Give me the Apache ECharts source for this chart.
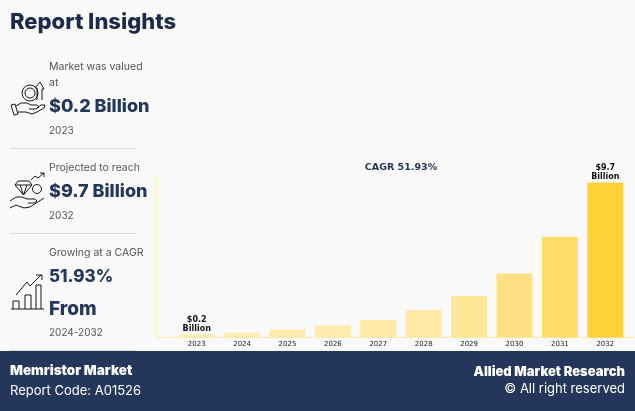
<!DOCTYPE html>
<html><head><meta charset="utf-8">
<style>html,body{margin:0;padding:0;background:#f9f9f9}#c{width:635px;height:411px}</style>
<script src="https://cdn.jsdelivr.net/npm/echarts@6/dist/echarts.min.js"></script>
</head><body><div id="c"></div>
<script>
const years = ['2023','2024','2025','2026','2027','2028','2029','2030','2031','2032'];
const values = [0.2,0.3,0.5,0.75,1.1,1.7,2.6,4.0,6.3,9.7];
const barColors = ['#FFECB3','#FFECB1','#FFEBAE','#FFEBAC','#FFEAA8','#FFE9A5','#FFE596','#FFE084','#FFDB6C','#FFD338'];
const valueLabels = {0:'$0.2\nBillion',9:'$9.7\nBillion'};
const NAVY='#24375B', GREY='#555', F='Inter, "Open Sans", sans-serif';
const txt=(x,y,text,size,weight,fill,align)=>({type:'text',x,y,style:{text,font:`${weight} ${size}px ${F}`,fill,textAlign:align||'left',textVerticalAlign:'middle'}});
const rule=(y)=>({type:'line',shape:{x1:10,y1:y,x2:136,y2:y},style:{stroke:'#dcdcdc',lineWidth:1}});
const IC={fill:'none',stroke:'#161616',lineWidth:1};
const pl=(...pts)=>({type:'polyline',shape:{points:pts},style:IC});
const ci=(cx,cy,r)=>({type:'circle',shape:{cx,cy,r},style:IC});
const chart=echarts.init(document.getElementById('c'),null,{renderer:'canvas'});
chart.setOption({
  animation:false,
  backgroundColor:'#f9f9f9',
  grid:{left:174,top:174.5,width:454,height:163},
  xAxis:{type:'category',data:years,axisTick:{show:false},
    axisLine:{lineStyle:{color:'#FFE9A8',width:1}},
    axisLabel:{fontFamily:'DejaVu Sans',fontSize:7,color:'#222',margin:3}},
  yAxis:{type:'value',min:0,max:10.2,offset:18,splitLine:{show:false},axisTick:{show:false},axisLabel:{show:false},
    axisLine:{show:true,lineStyle:{color:'#FFEFC2',width:1}}},
  series:[{type:'bar',barWidth:36,
    data:values.map((v,i)=>({value:v,itemStyle:{color:barColors[i]}})),
    label:{show:true,position:'top',distance:1,formatter:o=>valueLabels[o.dataIndex]||'',
      fontFamily:'DejaVu Sans',fontWeight:'bold',fontSize:8,lineHeight:9,color:'#111',align:'center'}}],
  graphic:[
    {type:'line',silent:true,shape:{x1:156,y1:337.5,x2:635,y2:337.5},style:{stroke:'#FFE9A8',lineWidth:1}},
    {type:'rect',shape:{x:0,y:351,width:635,height:60},style:{fill:NAVY}},
    txt(10,22,'Report Insights',22,800,'#1E2A4A'),
    txt(49,67,'Market was valued',10.5,400,GREY),
    txt(49,83,'at',10.5,400,GREY),
    txt(49,107,'$0.2 Billion',18,800,NAVY),
    txt(49,131,'2023',10,400,GREY),
    rule(148.5),
    txt(49,168,'Projected to reach',10.5,400,GREY),
    txt(49,192,'$9.7 Billion',18,800,NAVY),
    txt(49,216,'2032',10,400,GREY),
    rule(233.5),
    txt(49,253,'Growing at a CAGR',10.5,400,GREY),
    txt(49,277,'51.93%',17,800,NAVY),
    txt(49,309,'From',19,800,NAVY),
    txt(49,333,'2024-2032',10,400,GREY),
    rule(350.5),
    {type:'text',x:401,y:167.5,style:{text:'CAGR 51.93%',font:'bold 9.5px "DejaVu Sans"',fill:NAVY,textAlign:'center',textVerticalAlign:'middle'}},
    txt(10,371,'Memristor Market',13.5,900,'#fff'),
    txt(10,391,'Report Code: A01526',13,400,'#fff'),
    txt(625,372,'Allied Market Research',13,900,'#fff','right'),
    txt(625,389,'© All right reserved',13,400,'#fff','right'),
    // icon 1: hand, coin, arrow
    pl([11,105],[15,104],[18,114],[14,115],[11,105]),
    pl([16,106],[21,103],[27,103],[31,105],[37,105],[39,107],[36,109],[29,109]),
    pl([18,112],[26,112],[32,114],[37,112],[44,108],[45,105],[41,105],[37,108]),
    ci(30,93,8),ci(30,93,5),
    pl([37,100],[37,88],[35,88],[40,82],[44,89],[42,89],[42,100]),
    // icon 2: hand, diamond, coin, arrow
    pl([18,181],[29,181],[32,185],[23.5,195],[15,185],[18,181]),
    pl([15,185],[32,185]),pl([20,185],[23.5,195],[27,185]),
    pl([31,180],[35,176],[38,178],[44,173]),pl([40,173],[44,173],[44,177]),
    ci(37,189,4.5),
    pl([10,201],[16,197],[22,197],[27,199],[35,199],[37,201],[34,203],[28,203]),
    pl([10,208],[16,205],[24,208],[30,207],[44,198]),
    // icon 3: growth chart
    pl([11,309],[44,309]),
    pl([13,309],[13,301],[19,301],[19,309]),
    pl([25,309],[25,295],[31,295],[31,309]),
    pl([36,309],[36,285],[41,285],[41,309]),
    pl([16,295],[27,282],[30,286],[41,275]),pl([36,275],[42,275],[42,280])
  ]
});
</script></body></html>
